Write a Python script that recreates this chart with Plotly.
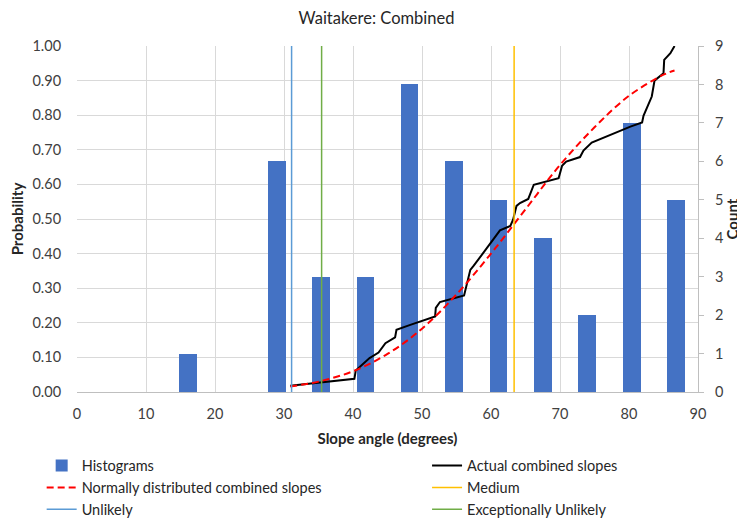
import plotly.graph_objects as go

# Histogram bins (degrees) and counts
bin_centers = [16.1, 22.5, 29.0, 35.4, 41.8, 48.2, 54.6, 61.1, 67.5, 73.9, 80.4, 86.8]
bin_counts = [1, 0, 6, 3, 3, 8, 6, 5, 4, 2, 7, 5]

# Actual combined slopes (empirical cumulative probability)
actual_x = [30.9, 40.2, 40.4, 42.4, 43.7, 44.7, 46.1, 46.3, 48.3, 51.9, 52.0, 52.6, 56.1, 56.5,
            57.0, 57.5, 60.8, 61.3, 62.8, 63.2, 63.7, 64.2, 65.4, 66.2, 69.8, 70.3, 70.9, 72.9,
            73.4, 74.6, 80.2, 81.9, 82.1, 83.3, 83.7, 85.0, 85.1, 86.0, 86.6]
actual_p = [0.018, 0.038, 0.062, 0.098, 0.114, 0.141, 0.158, 0.180, 0.194, 0.218, 0.243, 0.260,
            0.279, 0.310, 0.353, 0.365, 0.454, 0.467, 0.480, 0.498, 0.538, 0.546, 0.558, 0.599,
            0.618, 0.654, 0.666, 0.679, 0.698, 0.721, 0.767, 0.779, 0.798, 0.854, 0.900, 0.921,
            0.960, 0.979, 1.000]

# Normally distributed combined slopes
normal_x = [30.9, 35.0, 40.0, 45.0, 50.0, 55.0, 60.0, 65.0, 70.0, 75.0, 80.0, 85.0, 86.6]
normal_p = [0.016, 0.030, 0.060, 0.110, 0.183, 0.282, 0.400, 0.528, 0.656, 0.765, 0.856, 0.917, 0.929]

# Threshold lines (degrees)
unlikely_x = 31.1
exc_unlikely_x = 35.45
medium_x = 63.35

FONT = "Lato"
fig = go.Figure()

fig.add_trace(go.Bar(x=bin_centers, y=bin_counts, width=2.57, name="Histograms",
                     marker=dict(color="#4472C4", line=dict(width=0)),
                     yaxis="y", legend="legend", legendgroup="a"))
fig.add_trace(go.Scatter(x=actual_x, y=actual_p, mode="lines", name="Actual combined slopes",
                         line=dict(color="black", width=2), yaxis="y2",
                         legend="legend2", legendgroup="b"))
fig.add_trace(go.Scatter(x=normal_x, y=normal_p, mode="lines", name="Normally distributed combined slopes",
                         line=dict(color="#FF0000", width=2, dash="7px,4px", shape="spline"),
                         yaxis="y2", legend="legend", legendgroup="c"))
fig.add_trace(go.Scatter(x=[medium_x, medium_x], y=[0, 1], mode="lines", name="Medium",
                         line=dict(color="#FFC000", width=1.5), yaxis="y2",
                         legend="legend2", legendgroup="d"))
fig.add_trace(go.Scatter(x=[unlikely_x, unlikely_x], y=[0, 1], mode="lines", name="Unlikely",
                         line=dict(color="#5B9BD5", width=1.5), yaxis="y2",
                         legend="legend", legendgroup="e"))
fig.add_trace(go.Scatter(x=[exc_unlikely_x, exc_unlikely_x], y=[0, 1], mode="lines",
                         name="Exceptionally Unlikely",
                         line=dict(color="#70AD47", width=1.5), yaxis="y2",
                         legend="legend2", legendgroup="f"))
# invisible trace to activate the tick-mark-only right axis
fig.add_trace(go.Scatter(x=[None], y=[None], yaxis="y3", showlegend=False, hoverinfo="skip"))

legend_common = dict(orientation="v", yanchor="top", y=-0.1666, xanchor="left",
                     traceorder="grouped", tracegroupgap=0,
                     font=dict(family=FONT, size=14.5, color="#262626"),
                     bgcolor="rgba(0,0,0,0)", itemwidth=30)

W, H = 737, 513  # page body adds an 8px offset

fig.update_layout(
    width=W, height=H,
    margin=dict(l=69.3, r=47.3, t=38, b=128.7, autoexpand=False),
    paper_bgcolor="white", plot_bgcolor="white",
    font=dict(family=FONT, size=14, color="#404040"),
    title=dict(text="Waitakere: Combined", x=0.5, xanchor="center", yref="container",
               y=0.9795, yanchor="middle",
               font=dict(family=FONT, size=16.5, color="#262626")),
    bargap=0,
    xaxis=dict(range=[0, 90], dtick=10, tick0=0, showgrid=True, gridcolor="#d9d9d9", gridwidth=1,
               showline=True, linecolor="#bfbfbf", linewidth=1, zeroline=False,
               ticks="outside", ticklen=9, tickcolor="rgba(0,0,0,0)",
               tickfont=dict(size=14.5, color="#404040"),
               title=dict(text="<b>Slope angle (degrees)</b>", standoff=12,
                          font=dict(size=15, color="#262626"))),
    yaxis=dict(range=[0, 9], dtick=1, side="right", showgrid=False, zeroline=False,
               showline=False, ticks="outside", ticklen=13, tickcolor="rgba(0,0,0,0)",
               tickfont=dict(size=14.5, color="#404040"),
               title=dict(text="<b>Count</b>", standoff=2, font=dict(size=15, color="#262626"))),
    yaxis3=dict(range=[0, 9], dtick=1, side="right", overlaying="y", showgrid=False, zeroline=False,
                showline=True, linecolor="#bfbfbf", linewidth=1, ticks="outside", ticklen=5,
                tickcolor="#bfbfbf", showticklabels=False),
    yaxis2=dict(range=[0, 1], dtick=0.1, tickformat=".2f", side="left", overlaying="y",
                showgrid=True, gridcolor="#d9d9d9", gridwidth=1, zeroline=False, showline=False,
                ticks="outside", ticklen=12, tickcolor="rgba(0,0,0,0)",
                tickfont=dict(size=14.5, color="#404040"),
                title=dict(text="<b>Probability</b>", standoff=12, font=dict(size=15, color="#262626"))),
    legend=dict(x=-0.0569, **legend_common),
    legend2=dict(x=0.5637, **legend_common),
    showlegend=True,
)

fig.write_html("out.html")
